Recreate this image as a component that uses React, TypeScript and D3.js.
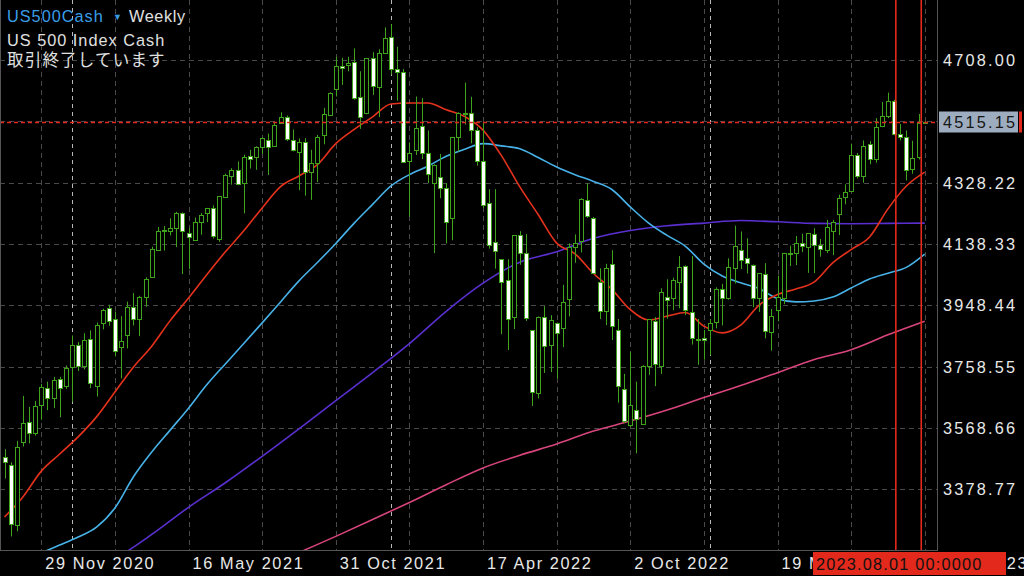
import React from "react";
import * as d3 from "d3";

// ---------- data (weekly bars, first bar = week of 18 Oct 2020) ----------
const firstWeek = "2020-10-18";
const opens = [3478,3455,3268,3526,3588,3552,3640,3692,3662,3719,3700,3757,3826,3760,3843,3700,3893,3941,3905,3820,3857,3944,3905,3973,4037,4120,4182,4180,4187,4233,4173,4151,4207,4233,4249,4153,4285,4349,4367,4328,4410,4407,4438,4460,4442,4512,4532,4460,4424,4455,4360,4390,4476,4538,4617,4688,4692,4703,4592,4545,4713,4623,4729,4780,4679,4672,4396,4429,4504,4419,4328,4345,4311,4218,4471,4543,4543,4491,4395,4264,4145,4091,4027,3913,4166,4111,3872,3678,3911,3826,3895,3877,3967,4130,4149,4275,4218,4022,3932,4076,3872,3688,3578,3624,3581,3761,3901,3760,3975,3970,4022,4070,3929,3843,3848,3872,3898,3998,3970,4063,4120,4094,4073,3970,4045,3865,3934,3970,4110,4110,4142,4128,4169,4134,4120,4180,4231,4285,4303,4414,4350,4447,4401,4504,4535,4582,4479,4469,4370,4407,4513];
const highs = [3503,3462,3529,3668,3634,3652,3705,3712,3727,3727,3762,3855,3835,3862,3871,3895,3938,3950,3929,3915,3960,3986,3978,4035,4130,4191,4194,4218,4238,4236,4188,4220,4234,4250,4258,4286,4356,4373,4394,4415,4430,4441,4468,4480,4513,4546,4536,4493,4465,4466,4430,4476,4560,4608,4718,4715,4718,4744,4673,4714,4732,4741,4809,4819,4749,4680,4453,4595,4590,4490,4385,4417,4327,4465,4546,4638,4594,4500,4513,4308,4308,4091,4091,4165,4178,4169,3872,3914,3946,3918,3895,4012,4140,4168,4280,4326,4222,4063,4077,4119,3906,3736,3805,3712,3763,3905,3912,4001,4029,4034,4101,4072,4101,3906,3872,3906,4004,4015,4094,4195,4177,4156,4075,4048,4079,3937,4040,4111,4133,4163,4170,4171,4187,4154,4213,4213,4291,4323,4449,4420,4459,4457,4528,4578,4607,4585,4510,4490,4458,4541,4519];
const lows = [3412,3233,3249,3511,3521,3545,3594,3624,3630,3602,3690,3650,3745,3750,3692,3666,3874,3885,3790,3722,3815,3886,3853,3944,4034,4118,4118,4165,4129,4045,4060,4150,4167,4206,4155,4145,4282,4322,4320,4233,4372,4368,4417,4352,4440,4510,4457,4425,4305,4288,4275,4330,4447,4537,4595,4631,4673,4585,4495,4540,4600,4531,4729,4663,4582,4395,4223,4414,4401,4327,4110,4280,4140,4150,4424,4508,4450,4381,4250,4124,4062,3859,3810,3875,4074,3900,3637,3660,3739,3742,3722,3819,3914,4080,4112,4219,4046,3906,3887,3841,3647,3584,3572,3490,3580,3733,3698,3736,3907,3933,3939,3918,3827,3764,3780,3794,3877,3886,3966,4016,4061,4047,3943,3928,3846,3808,3899,3952,4070,4073,4113,4049,4048,4099,4110,4104,4166,4261,4303,4341,4328,4385,4390,4500,4528,4475,4459,4335,4356,4400,4510];
const closes = [3462,3272,3510,3585,3552,3636,3697,3662,3718,3692,3755,3826,3760,3842,3707,3888,3935,3901,3808,3839,3942,3905,3973,4030,4122,4180,4178,4188,4233,4178,4161,4207,4228,4249,4163,4286,4352,4367,4324,4409,4400,4438,4466,4440,4507,4532,4462,4430,4455,4362,4388,4471,4541,4607,4690,4682,4700,4589,4532,4713,4628,4729,4775,4679,4670,4393,4421,4496,4421,4355,4383,4312,4207,4470,4543,4545,4491,4395,4258,4135,4118,4020,3905,4165,4110,3908,3681,3911,3823,3903,3864,3960,4130,4140,4278,4226,4050,3932,4063,3884,3699,3591,3640,3595,3761,3905,3767,3991,3965,4027,4068,3934,3848,3845,3842,3893,3998,3970,4068,4132,4089,4079,3970,4048,3870,3916,3973,4110,4106,4142,4133,4171,4135,4122,4190,4207,4280,4298,4414,4350,4442,4401,4501,4535,4582,4479,4469,4367,4404,4512,4515.15];

// moving averages
const ma20Step = 3;
const ma20 = [3293,3355,3435,3488,3541,3603,3680,3757,3822,3901,3971,4044,4114,4179,4250,4316,4349,4384,4449,4493,4532,4572,4575,4575,4554,4533,4491,4412,4315,4229,4141,4108,4047,3998,3935,3903,3915,3926,3884,3863,3887,3949,3982,3999,4021,4080,4121,4160,4247,4318,4361];
const ma50Step = 3;
const ma50 = [3135,3157,3182,3206,3231,3262,3321,3417,3494,3562,3630,3703,3767,3830,3894,3959,4024,4081,4140,4203,4261,4318,4353,4379,4410,4432,4449,4442,4433,4406,4377,4353,4332,4307,4253,4203,4165,4131,4076,4039,4018,4000,3969,3959,3962,3974,4002,4030,4048,4066,4107];
const ma100Step = 6;
const ma100 = [2990,3048,3107,3163,3239,3323,3399,3481,3566,3653,3740,3830,3930,4017,4082,4114,4156,4180,4195,4203,4211,4207,4202,4201,4202,4203];
const ma200Step = 6;
const ma200 = [2773,2822,2872,2925,2974,3027,3079,3132,3183,3233,3285,3338,3393,3445,3484,3519,3559,3590,3624,3663,3700,3740,3781,3811,3857,3899];

const priceTicks = [3378.77, 3568.66, 3758.55, 3948.44, 4138.33, 4328.22, 4518.11, 4708.0];
const dateTickDates = ["2020-11-29", "2021-05-16", "2021-10-31", "2022-04-17", "2022-10-02", "2023-03-19", "2023-09-03"];
const dateTickLabels = ["29 Nov 2020", "16 May 2021", "31 Oct 2021", "17 Apr 2022", "2 Oct 2022", "19 Mar 2023", "3 Sep 2023"];
const gridDates = ["2020-11-29","2021-02-21","2021-05-16","2021-08-08","2021-10-31","2022-01-23","2022-04-17","2022-07-10","2022-10-02","2022-12-25","2023-03-19","2023-06-11","2023-09-03"];
const yearSeparatorDates = ["2021-01-03", "2022-01-02", "2023-01-01"];
const markerLineDates = ["2023-08-01", "2023-08-30"];
const markerLabel = "2023.08.01 00:0000";
const lastPrice = 4515.15;
const symbolName = "US500Cash";
const timeframe = "Weekly";
const description = "US 500 Index Cash";
const statusText = "取引終了しています";

// ---------- layout / style ----------
const W = 1024, H = 576;
const PLOT_R = 937, PLOT_B = 550;
const GREEN = "#3fa31c";
const RED = "#e3291c";
const FONT = "'Liberation Sans', Arial, sans-serif";

const day = (s: string) => new Date(s + "T00:00:00Z");
const weekDate = (i: number) => new Date(day(firstWeek).getTime() + i * 7 * 86400000);

export default function App() {
  const n = closes.length;
  const x = d3.scaleUtc().domain([weekDate(0), weekDate(n - 1)]).range([4.5, 924.75]);
  const y = d3.scaleLinear().domain([3378.77, 4708.0]).range([489.3, 60]);

  const maLine = (vals: number[], step: number) =>
    d3.line<number>()
      .x((_, k) => x(weekDate(k * step)))
      .y((v) => y(v))
      .curve(d3.curveMonotoneX)(vals) || "";

  const candles = d3.range(n).map((i) => {
    const cx = Math.round(x(weekDate(i)));
    const o = opens[i], c = closes[i];
    const top = Math.round(y(Math.max(o, c)));
    const bot = Math.round(y(Math.min(o, c)));
    return (
      <g key={i}>
        <line x1={cx + 0.5} x2={cx + 0.5} y1={y(highs[i])} y2={y(lows[i])} stroke={GREEN} strokeWidth={1} />
        <rect x={cx - 1.5} y={top + 0.5} width={4} height={Math.max(1, bot - top)}
          fill={c < o ? "#ffffff" : "#000000"} stroke={GREEN} strokeWidth={1} />
      </g>
    );
  });

  return (
    <svg width={W} height={H} style={{ position: "absolute", left: 0, top: 0, display: "block", background: "#000" }}
      fontFamily={FONT}>
      <defs>
        <clipPath id="plot"><rect x={0} y={0} width={PLOT_R} height={PLOT_B} /></clipPath>
      </defs>
      <rect x={0} y={0} width={W} height={H} fill="#000" />

      {/* grid */}
      <g stroke="#4a4a4a" strokeWidth={1} strokeDasharray="5,4">
        {priceTicks.map((p) => (
          <line key={p} x1={0} x2={PLOT_R} y1={Math.round(y(p)) + 0.5} y2={Math.round(y(p)) + 0.5} />
        ))}
        {gridDates.map((d) => (
          <line key={d} x1={Math.round(x(day(d))) + 0.5} x2={Math.round(x(day(d))) + 0.5} y1={0} y2={PLOT_B} />
        ))}
      </g>
      <g stroke="#b8b8b8" strokeWidth={1} strokeDasharray="4,4">
        {yearSeparatorDates.map((d) => (
          <line key={d} x1={Math.round(x(day(d))) + 0.5} x2={Math.round(x(day(d))) + 0.5} y1={0} y2={PLOT_B} />
        ))}
      </g>

      <g clipPath="url(#plot)">
        {/* moving averages */}
        <path d={maLine(ma200, ma200Step)} fill="none" stroke="#d8457c" strokeWidth={1.6} />
        <path d={maLine(ma100, ma100Step)} fill="none" stroke="#5a2fd0" strokeWidth={1.6} />
        <path d={maLine(ma50, ma50Step)} fill="none" stroke="#47b2e8" strokeWidth={1.6} />
        <path d={maLine(ma20, ma20Step)} fill="none" stroke="#e5321c" strokeWidth={1.6} />
        {candles}
        {/* current price line */}
        <line x1={0} x2={PLOT_R} y1={Math.round(y(lastPrice)) + 0.5} y2={Math.round(y(lastPrice)) + 0.5}
          stroke={RED} strokeWidth={1.5} strokeDasharray="4,3" />
        {/* vertical marker lines */}
        {markerLineDates.map((d) => (
          <line key={d} x1={x(day(d))} x2={x(day(d))} y1={0} y2={PLOT_B} stroke={RED} strokeWidth={1.6} />
        ))}
      </g>

      {/* frame */}
      <g stroke="#555" strokeWidth={1}>
        <line x1={PLOT_R + 0.5} x2={PLOT_R + 0.5} y1={0} y2={PLOT_B + 1} />
        <line x1={0} x2={PLOT_R + 1} y1={PLOT_B + 0.5} y2={PLOT_B + 0.5} />
        <line x1={0.5} x2={0.5} y1={0} y2={PLOT_B} />
      </g>

      {/* price axis labels */}
      <g fill="#e8e8e8" fontSize={16.3} letterSpacing={2.2}>
        {priceTicks.filter((p) => Math.abs(p - lastPrice) > 20).map((p) => (
          <text key={p} x={943} y={y(p) + 6}>{p.toFixed(2)}</text>
        ))}
      </g>
      <rect x={939} y={111.5} width={79} height={21} fill="#9dadbf" />
      <rect x={1019} y={111.5} width={3} height={21} fill={RED} />
      <text x={943} y={y(lastPrice) + 6} fill="#161616" fontSize={16.3} letterSpacing={2.2}>{lastPrice.toFixed(2)}</text>

      {/* date axis labels */}
      <g fill="#e8e8e8" fontSize={16.3} letterSpacing={1.6}>
        {dateTickDates.map((d, k) => (
          <text key={d} x={x(day(d)) + 4} y={569}>{dateTickLabels[k]}</text>
        ))}
      </g>
      <rect x={813} y={552} width={193} height={23} fill={RED} />
      <text x={816} y={569.5} fill="#111" fontSize={16.3} letterSpacing={1.2}>{markerLabel}</text>

      {/* header */}
      <text x={7} y={22} fill="#3b9de6" fontSize={16.3} letterSpacing={1}>{symbolName}</text>
      <text x={113} y={20} fill="#3b9de6" fontSize={9}>▼</text>
      <text x={129} y={22} fill="#e0e0e0" fontSize={16.3} letterSpacing={0.6}>{timeframe}</text>
      <text x={7} y={46} fill="#e0e0e0" fontSize={16.3} letterSpacing={1}>{description}</text>
      <text x={7} y={66} fill="#e0e0e0" fontSize={16.5} letterSpacing={1.2} fontFamily="'Noto Sans CJK JP', sans-serif">{statusText}</text>
    </svg>
  );
}
